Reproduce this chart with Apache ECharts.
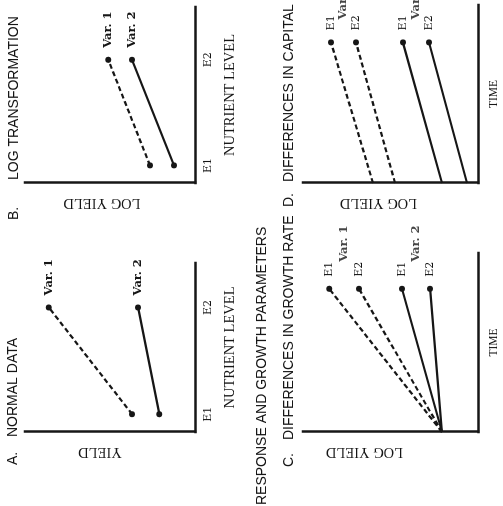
<!DOCTYPE html>
<html>
<head>
<meta charset="utf-8">
<script src="https://cdn.jsdelivr.net/npm/echarts@6/dist/echarts.min.js"></script>
<style>
  html, body { margin: 0; padding: 0; background: #fff; overflow: hidden; width: 503px; height: 506px; }
  /* The figure is laid out upright (506 x 503) and turned a quarter turn counter-clockwise onto the page */
  #chart { position: absolute; left: 0; top: 0; width: 506px; height: 503px;
           transform-origin: 0 0; transform: translateY(506px) rotate(-90deg); }
</style>
</head>
<body>
<div id="chart"></div>
<script>
// Nutrient levels on the response axis
const nutrientLevels = [1, 7];
const nutrientNames = ['E1', 'E2'];
const varNames = ['Var. 1', 'Var. 2'];
const nutrientAxisMax = [9.5, 10];

// A. yield at E1 and E2
const normalVar1 = [37, 86];
const normalVar2 = [21, 33.5];

// B. log yield at E1 and E2
const logVar1 = [26.5, 51];
const logVar2 = [12.4, 37];

// C. growth-rate differences: time (start, end) and log yield (start, end)
const rateTime = [0, 80];
const rateVar1E1 = [20.6, 85];
const rateVar1E2 = [20.6, 68];
const rateVar2E1 = [20.6, 43.4];
const rateVar2E2 = [20.6, 27.4];

// D. capital differences: time (start, end) and log yield (start, end)
const capTime = [0, 79];
const capVar1E1 = [60, 84];
const capVar1E2 = [47.4, 69.7];
const capVar2E1 = [20.6, 42.9];
const capVar2E2 = [6.3, 28];

const INK = '#161616';
const SANS = '"Liberation Sans", Arial, sans-serif';
const SERIF = '"Liberation Serif", serif';
const SLAB = '"DejaVu Serif", serif';

const chart = echarts.init(document.getElementById('chart'), null, { renderer: 'canvas' });

const axisLineStyle = { show: true, onZero: false, lineStyle: { color: INK, width: 2.5, cap: 'square' } };

function nutrientAxis(gridIndex, max) {
  return {
    type: 'value', gridIndex, min: 0, max,
    name: 'NUTRIENT LEVEL', nameLocation: 'middle', nameGap: 28,
    nameTextStyle: { fontFamily: SERIF, fontSize: 14.5, color: INK },
    axisLine: axisLineStyle, axisTick: { show: false }, splitLine: { show: false },
    axisLabel: {
      customValues: nutrientLevels,
      formatter: v => nutrientNames[nutrientLevels.indexOf(v)] || '',
      margin: 8, fontFamily: SLAB, fontSize: 11, color: INK
    }
  };
}
function timeAxis(gridIndex) {
  return {
    type: 'value', gridIndex, min: 0, max: 100,
    name: 'TIME', nameLocation: 'middle', nameGap: 10,
    nameTextStyle: { fontFamily: SERIF, fontSize: 11.5, color: INK },
    axisLine: axisLineStyle, axisTick: { show: false }, splitLine: { show: false },
    axisLabel: { show: false }
  };
}
function yieldAxis(gridIndex, name, shift) {
  return {
    type: 'value', gridIndex, min: 0, max: 100,
    name, nameLocation: 'middle', nameRotate: 90, nameGap: 12,
    nameTextStyle: { fontFamily: SERIF, fontSize: 14.5, color: INK, padding: [0, 0, 0, shift] },
    axisLine: axisLineStyle, axisTick: { show: false }, splitLine: { show: false },
    axisLabel: { show: false }
  };
}

const slabLabel = { fontFamily: SLAB, fontSize: 11, color: INK };
const varLabel = { fontFamily: SLAB, fontSize: 11.5, fontWeight: 'bold', color: INK };

function lineStyle(dashed) {
  return { color: INK, width: 2.2, type: dashed ? [5, 3] : 'solid' };
}

// Two-point response line (A, B): dots at E1 and E2, variety named at E2
function responseSeries(idx, values, name, dashed) {
  return {
    type: 'line', xAxisIndex: idx, yAxisIndex: idx, symbol: 'circle', symbolSize: 6,
    itemStyle: { color: INK }, lineStyle: lineStyle(dashed), z: 3,
    data: [
      { value: [nutrientLevels[0], values[0]] },
      { value: [nutrientLevels[1], values[1]],
        label: Object.assign({ show: true, position: 'right', distance: 9, formatter: name }, varLabel) }
    ]
  };
}

// Growth line (C, D): starts on the yield axis, dot and level name at its end
function growthSeries(idx, time, values, level, dashed) {
  return {
    type: 'line', xAxisIndex: idx, yAxisIndex: idx, symbol: 'circle', symbolSize: 6,
    itemStyle: { color: INK }, lineStyle: lineStyle(dashed), z: 3,
    data: [
      { value: [time[0], values[0]], symbol: 'none' },
      { value: [time[1], values[1]],
        label: Object.assign({ show: true, position: 'right', distance: 9, formatter: level }, slabLabel) }
    ]
  };
}

// Variety name set beside its pair of growth lines
function varietyTag(idx, time, e1, e2, name, gap) {
  return {
    type: 'scatter', xAxisIndex: idx, yAxisIndex: idx, symbolSize: 0, silent: true,
    data: [{ value: [time[1], (e1[1] + e2[1]) / 2],
             label: Object.assign({ show: true, position: 'right', distance: gap, formatter: name }, varLabel) }]
  };
}

function heading(text, left, centerY) {
  return { text, left, top: centerY - 8, padding: 0,
           textStyle: { fontFamily: SANS, fontSize: 14, fontWeight: 'normal', color: INK, lineHeight: 16 } };
}

chart.setOption({
  backgroundColor: '#fff',
  animation: false,
  title: [
    heading('A.', 41, 13),
    heading('NORMAL DATA', 69, 13),
    heading('B.', 286, 14),
    heading('LOG TRANSFORMATION', 326, 14),
    heading('RESPONSE AND GROWTH PARAMETERS', 1, 262),
    heading('C.', 39, 289),
    heading('DIFFERENCES IN GROWTH RATE', 66, 289),
    heading('D.', 299, 289),
    heading('DIFFERENCES IN CAPITAL', 324, 289)
  ],
  grid: [
    { left: 74, top: 25, width: 169, height: 170 },
    { left: 323, top: 25, width: 176, height: 170 },
    { left: 74, top: 303, width: 179, height: 175 },
    { left: 323, top: 303, width: 178, height: 175 }
  ],
  xAxis: [
    nutrientAxis(0, nutrientAxisMax[0]),
    nutrientAxis(1, nutrientAxisMax[1]),
    timeAxis(2),
    timeAxis(3)
  ],
  yAxis: [
    yieldAxis(0, 'YIELD', 20),
    yieldAxis(1, 'LOG YIELD', 16),
    yieldAxis(2, 'LOG YIELD', 52),
    yieldAxis(3, 'LOG YIELD', 24)
  ],
  series: [
    responseSeries(0, normalVar1, varNames[0], true),
    responseSeries(0, normalVar2, varNames[1], false),
    responseSeries(1, logVar1, varNames[0], true),
    responseSeries(1, logVar2, varNames[1], false),

    growthSeries(2, rateTime, rateVar1E1, nutrientNames[0], true),
    growthSeries(2, rateTime, rateVar1E2, nutrientNames[1], true),
    growthSeries(2, rateTime, rateVar2E1, nutrientNames[0], false),
    growthSeries(2, rateTime, rateVar2E2, nutrientNames[1], false),
    varietyTag(2, rateTime, rateVar1E1, rateVar1E2, varNames[0], 27),
    varietyTag(2, rateTime, rateVar2E1, rateVar2E2, varNames[1], 27),

    growthSeries(3, capTime, capVar1E1, nutrientNames[0], true),
    growthSeries(3, capTime, capVar1E2, nutrientNames[1], true),
    growthSeries(3, capTime, capVar2E1, nutrientNames[0], false),
    growthSeries(3, capTime, capVar2E2, nutrientNames[1], false),
    varietyTag(3, capTime, capVar1E1, capVar1E2, varNames[0], 23),
    varietyTag(3, capTime, capVar2E1, capVar2E2, varNames[1], 23)
  ]
});
</script>
</body>
</html>
